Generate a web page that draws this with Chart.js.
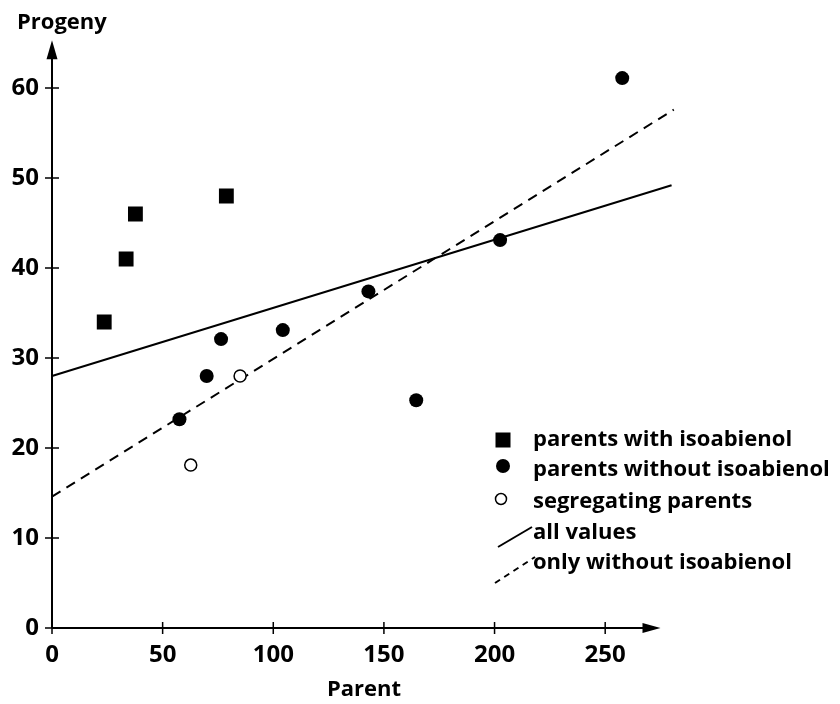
<!DOCTYPE html>
<html>
<head>
<meta charset="utf-8">
<script src="https://cdn.jsdelivr.net/npm/chart.js@4/dist/chart.umd.min.js"></script>
<style>
  body { margin: 0; background: #fff; }
  canvas { display: block; }
</style>
</head>
<body>
<canvas id="chart" width="840" height="704"></canvas>
<script>
// values
const withIsoX = [23.6, 33.5, 37.7, 78.8];
const withIsoY = [34, 41, 46, 48];
const withoutX = [57.6, 69.9, 76.4, 104.3, 143, 164.6, 202.5, 257.7];
const withoutY = [23.2, 28, 32.1, 33.1, 37.4, 25.3, 43.1, 61.1];
const segX = [62.7, 85];
const segY = [18.1, 28];
const allLineX = [0, 280];
const allLineY = [28, 49.2];
const onlyLineX = [0, 281];
const onlyLineY = [14.6, 57.6];
const xTicks = [0, 50, 100, 150, 200, 250];
const yTicks = [0, 10, 20, 30, 40, 50, 60];
const legendLabels = ['parents with isoabienol', 'parents without isoabienol', 'segregating parents', 'all values', 'only without isoabienol'];

const FONT = '"Open Sans", "DejaVu Sans", sans-serif';

function toPoints(xs, ys) {
    return xs.map((x, i) => ({ x: x, y: ys[i] }));
}

// axes with arrows, crossing tick marks, caption and legend
const decorations = {
    id: 'decorations',
    afterDraw(chart) {
        const ctx = chart.ctx;
        const xs = chart.scales.x;
        const ys = chart.scales.y;
        const x0 = xs.getPixelForValue(0);
        const y0 = ys.getPixelForValue(0);
        const xEnd = xs.getPixelForValue(275);
        const yEnd = ys.getPixelForValue(65.3);

        ctx.save();
        ctx.strokeStyle = '#000';
        ctx.fillStyle = '#000';
        ctx.lineWidth = 2;
        ctx.beginPath();
        ctx.moveTo(x0, y0);
        ctx.lineTo(x0, yEnd + 10);
        ctx.moveTo(x0, y0);
        ctx.lineTo(xEnd - 10, y0);
        ctx.stroke();

        // arrow heads
        ctx.beginPath();
        ctx.moveTo(x0, yEnd);
        ctx.lineTo(x0 - 5.5, yEnd + 19);
        ctx.lineTo(x0 + 5.5, yEnd + 19);
        ctx.closePath();
        ctx.fill();
        ctx.beginPath();
        ctx.moveTo(xEnd, y0);
        ctx.lineTo(xEnd - 18, y0 - 5);
        ctx.lineTo(xEnd - 18, y0 + 5);
        ctx.closePath();
        ctx.fill();

        // tick marks crossing the axes
        ctx.lineWidth = 1.5;
        ctx.beginPath();
        xTicks.forEach(v => {
            const px = xs.getPixelForValue(v);
            ctx.moveTo(px, y0 - 6);
            ctx.lineTo(px, y0 + 6);
        });
        yTicks.forEach(v => {
            const py = ys.getPixelForValue(v);
            ctx.moveTo(x0 - 7, py);
            ctx.lineTo(x0 + 7, py);
        });
        ctx.stroke();

        // y caption
        ctx.font = 'bold 22px ' + FONT;
        ctx.textBaseline = 'middle';
        ctx.textAlign = 'left';
        ctx.fillText('Progeny', 17, 23);

        // legend
        const lx = 503;
        const tx = 533;
        const rows = [440, 470, 502, 533, 563];
        ctx.font = 'bold 22px ' + FONT;
        legendLabels.forEach((label, i) => ctx.fillText(label, tx, rows[i]));

        ctx.fillRect(lx - 7.5, rows[0] - 7.5, 15, 15);
        ctx.beginPath();
        ctx.arc(lx, rows[1] - 4, 7, 0, Math.PI * 2);
        ctx.fill();
        ctx.lineWidth = 1.5;
        ctx.beginPath();
        ctx.arc(lx - 2, rows[2] - 3, 5.5, 0, Math.PI * 2);
        ctx.stroke();
        ctx.lineWidth = 2;
        ctx.beginPath();
        ctx.moveTo(498, 547);
        ctx.lineTo(532, 527);
        ctx.stroke();
        ctx.setLineDash([6, 5]);
        ctx.beginPath();
        ctx.moveTo(495, 583);
        ctx.lineTo(535, 557);
        ctx.stroke();
        ctx.restore();
    }
};

const ctx = document.getElementById('chart').getContext('2d');

new Chart(ctx, {
    type: 'scatter',
    data: {
        datasets: [
            {
                label: legendLabels[0],
                data: toPoints(withIsoX, withIsoY),
                pointStyle: 'rect',
                pointRadius: 10.5,
                backgroundColor: '#000',
                borderColor: '#000',
                borderWidth: 0
            },
            {
                label: legendLabels[1],
                data: toPoints(withoutX, withoutY),
                pointStyle: 'circle',
                pointRadius: 7,
                backgroundColor: '#000',
                borderColor: '#000',
                borderWidth: 0
            },
            {
                label: legendLabels[2],
                data: toPoints(segX, segY),
                pointStyle: 'circle',
                pointRadius: 6,
                backgroundColor: '#fff',
                borderColor: '#000',
                borderWidth: 1.5
            },
            {
                label: legendLabels[3],
                data: toPoints(allLineX, allLineY),
                showLine: true,
                pointRadius: 0,
                borderColor: '#000',
                borderWidth: 2,
                clip: false
            },
            {
                label: legendLabels[4],
                data: toPoints(onlyLineX, onlyLineY),
                showLine: true,
                pointRadius: 0,
                borderColor: '#000',
                borderWidth: 2,
                borderDash: [10, 7],
                clip: false
            }
        ]
    },
    options: {
        responsive: false,
        animation: false,
        layout: {
            padding: { top: 38.5, left: 0, right: 164, bottom: 0 }
        },
        plugins: {
            legend: { display: false },
            tooltip: { enabled: false }
        },
        scales: {
            x: {
                type: 'linear',
                min: 0,
                max: 282,
                afterFit: scale => { scale.height = 76; },
                afterBuildTicks: scale => { scale.ticks = xTicks.map(v => ({ value: v })); },
                grid: { display: false, drawTicks: false },
                border: { display: false },
                ticks: {
                    color: '#000',
                    padding: 13,
                    maxRotation: 0,
                    font: { family: FONT, size: 24, weight: 'bold' }
                },
                title: {
                    display: true,
                    text: 'Parent',
                    color: '#000',
                    padding: { top: 0, bottom: 1 },
                    font: { family: FONT, size: 22, weight: 'bold' }
                }
            },
            y: {
                type: 'linear',
                min: 0,
                max: 65.5,
                afterFit: scale => { scale.width = 52; },
                afterBuildTicks: scale => { scale.ticks = yTicks.map(v => ({ value: v })); },
                grid: { display: false, drawTicks: false },
                border: { display: false },
                ticks: {
                    color: '#000',
                    padding: 13,
                    font: { family: FONT, size: 24, weight: 'bold' }
                }
            }
        }
    },
    plugins: [decorations]
});
</script>
</body>
</html>
